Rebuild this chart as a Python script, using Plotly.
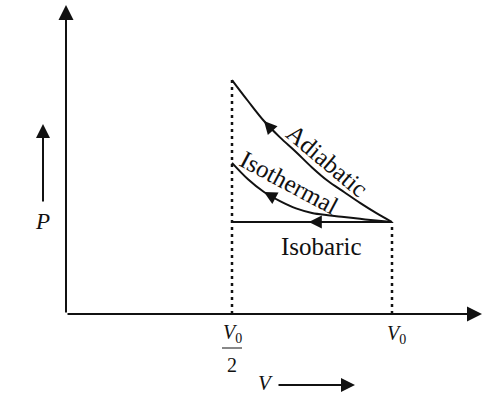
import plotly.graph_objects as go

# ---- data (V in units of V0, P in units of P0, schematic values)
V_curve = [0.5, 0.55, 0.6, 0.65, 0.7, 0.75, 0.8, 0.85, 0.9, 0.95, 1.0]
P_adiabatic = [2.56, 2.33, 2.11, 1.93, 1.77, 1.60, 1.45, 1.33, 1.21, 1.10, 1.0]
P_isothermal = [1.65, 1.47, 1.33, 1.23, 1.15, 1.10, 1.075, 1.055, 1.035, 1.017, 1.0]
V_isobaric = [0.5, 1.0]
P_isobaric = [1.0, 1.0]
tick_vals = [0.5, 1.0]
arrow_index = 2          # where the direction arrows sit on the curves
isobaric_arrow_V = 0.74

# ---- layout helpers (pixel -> data for decorations only)
W, H = 486, 394
X_RANGE = [-0.225, 1.29375]
Y_RANGE = [-0.890, 3.440]


def vx(px):
    return X_RANGE[0] + px / W * (X_RANGE[1] - X_RANGE[0])


def py(px):
    return Y_RANGE[1] - px / H * (Y_RANGE[1] - Y_RANGE[0])


AX_V = vx(66)      # vertical axis position
AX_P = py(314)     # horizontal axis position
SERIF = "Liberation Serif, 'Times New Roman', 'DejaVu Serif', serif"
BLACK = "#111111"

fig = go.Figure()

# curves
fig.add_trace(go.Scatter(x=V_curve, y=P_adiabatic, mode="lines",
                         line=dict(color=BLACK, width=2, shape="spline"),
                         name="Adiabatic"))
fig.add_trace(go.Scatter(x=V_curve, y=P_isothermal, mode="lines",
                         line=dict(color=BLACK, width=2, shape="spline"),
                         name="Isothermal"))
fig.add_trace(go.Scatter(x=V_isobaric, y=P_isobaric, mode="lines",
                         line=dict(color=BLACK, width=2), name="Isobaric"))

# dotted guide lines
fig.add_trace(go.Scatter(x=[tick_vals[0], tick_vals[0]], y=[AX_P, P_adiabatic[0]],
                         mode="lines", line=dict(color=BLACK, width=2.5, dash="3px,4px")))
fig.add_trace(go.Scatter(x=[tick_vals[1], tick_vals[1]], y=[AX_P, P_isobaric[-1]],
                         mode="lines", line=dict(color=BLACK, width=2.5, dash="3px,4px")))

ann = []

# axes with arrowheads
ann.append(dict(x=AX_V, y=py(5), ax=AX_V, ay=AX_P, xref="x", yref="y",
                axref="x", ayref="y", showarrow=True, arrowhead=2, arrowsize=1.5,
                arrowwidth=2, arrowcolor=BLACK, text="", standoff=0))
ann.append(dict(x=vx(482), y=AX_P, ax=AX_V, ay=AX_P, xref="x", yref="y",
                axref="x", ayref="y", showarrow=True, arrowhead=2, arrowsize=1.5,
                arrowwidth=2, arrowcolor=BLACK, text="", standoff=0))

# direction arrows on curves
i = arrow_index
ann.append(dict(x=V_curve[i], y=P_adiabatic[i], ax=9, ay=10, xref="x", yref="y",
                showarrow=True, arrowhead=2, arrowsize=1.3, arrowwidth=2,
                arrowcolor=BLACK, text="", standoff=0))
ann.append(dict(x=V_curve[i], y=P_isothermal[i], ax=11, ay=6, xref="x", yref="y",
                showarrow=True, arrowhead=2, arrowsize=1.3, arrowwidth=2,
                arrowcolor=BLACK, text="", standoff=0))
ann.append(dict(x=isobaric_arrow_V, y=P_isobaric[0], ax=12, ay=0, xref="x", yref="y",
                showarrow=True, arrowhead=2, arrowsize=1.3, arrowwidth=2,
                arrowcolor=BLACK, text="", standoff=0))

# curve labels
ann.append(dict(x=vx(327), y=py(160), text="Adiabatic", textangle=40,
                showarrow=False, font=dict(family=SERIF, size=25, color=BLACK)))
ann.append(dict(x=vx(289), y=py(182), text="Isothermal", textangle=28,
                showarrow=False, font=dict(family=SERIF, size=25, color=BLACK)))
ann.append(dict(x=vx(321), y=py(246), text="Isobaric",
                showarrow=False, font=dict(family=SERIF, size=25, color=BLACK)))

# tick labels
ann.append(dict(x=tick_vals[1], y=py(334), xshift=4, text="<i>V</i><sub>0</sub>",
                showarrow=False, font=dict(family=SERIF, size=20, color=BLACK)))
ann.append(dict(x=tick_vals[0], y=py(333), text="<i>V</i><sub>0</sub>",
                showarrow=False, font=dict(family=SERIF, size=20, color=BLACK)))
ann.append(dict(x=tick_vals[0], y=py(365), text="2",
                showarrow=False, font=dict(family=SERIF, size=20, color=BLACK)))

# axis titles with arrows
ann.append(dict(x=vx(42), y=py(221), text="<i>P</i>", showarrow=False,
                font=dict(family=SERIF, size=23, color=BLACK)))
ann.append(dict(x=vx(43), y=py(124), ax=vx(43), ay=py(203), xref="x", yref="y",
                axref="x", ayref="y", showarrow=True, arrowhead=2, arrowsize=1.4,
                arrowwidth=2, arrowcolor=BLACK, text="", standoff=0))
ann.append(dict(x=vx(265), y=py(383), text="<i>V</i>", showarrow=False,
                font=dict(family=SERIF, size=21, color=BLACK)))
ann.append(dict(x=vx(355), y=py(385), ax=vx(277), ay=py(385), xref="x", yref="y",
                axref="x", ayref="y", showarrow=True, arrowhead=2, arrowsize=1.4,
                arrowwidth=2, arrowcolor=BLACK, text="", standoff=0))

# fraction bar
shapes = [dict(type="line", xref="x", yref="y", x0=vx(222), x1=vx(242),
               y0=py(348), y1=py(348), line=dict(color=BLACK, width=1))]

fig.update_layout(
    width=W, height=H, margin=dict(l=0, r=0, t=0, b=0),
    paper_bgcolor="white", plot_bgcolor="white", showlegend=False,
    xaxis=dict(visible=False, range=X_RANGE, fixedrange=True),
    yaxis=dict(visible=False, range=Y_RANGE, fixedrange=True),
    annotations=ann, shapes=shapes,
)

fig.write_html("out.html")
